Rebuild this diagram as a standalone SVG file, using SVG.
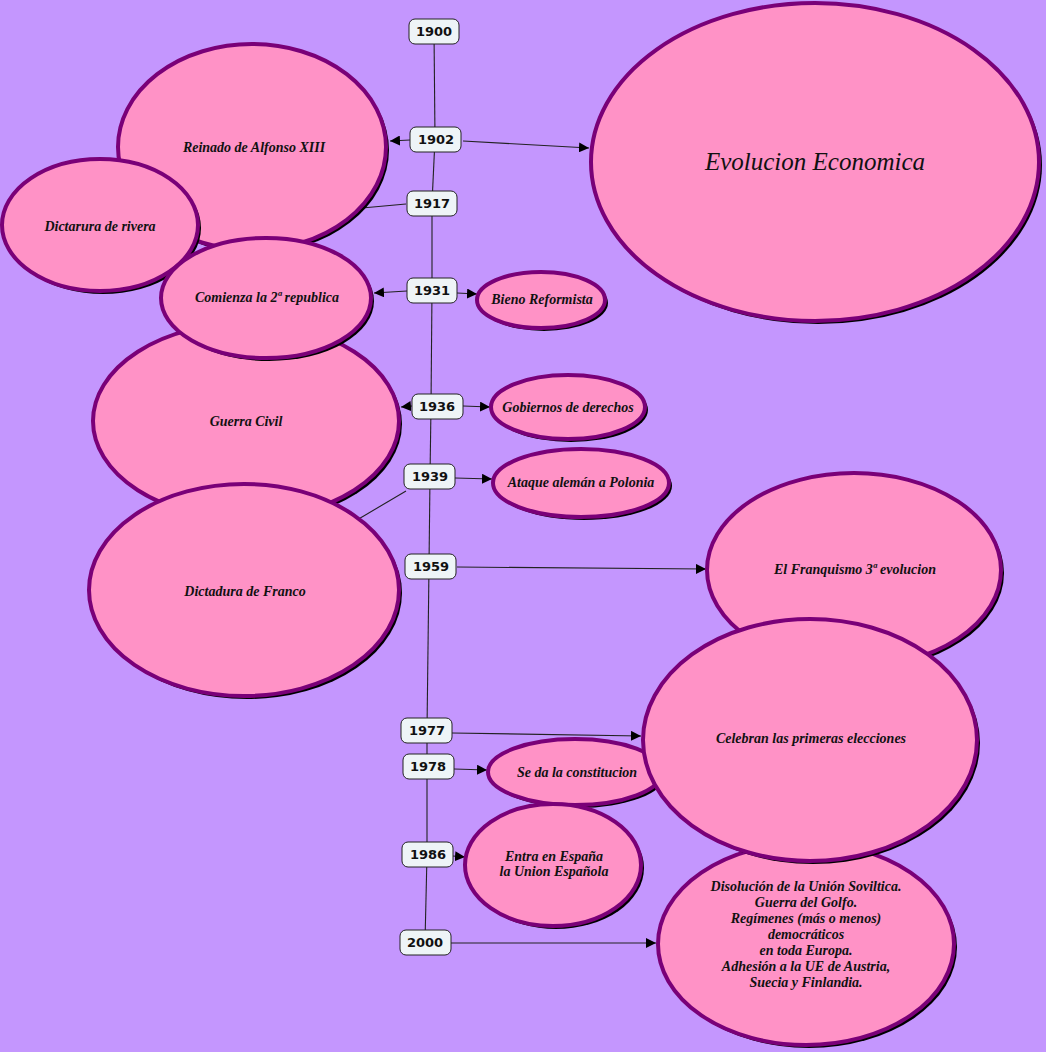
<svg xmlns="http://www.w3.org/2000/svg" width="1046" height="1052" viewBox="0 0 1046 1052">
<style>
.bg{fill:#c496fe}
.sh{fill:#000}
.el{fill:#ff92c6;stroke:#7a0078;stroke-width:4}
.yr rect{fill:#eef4f7;stroke:#222;stroke-width:1}
.yr text{font-family:"DejaVu Sans",Verdana,sans-serif;font-weight:bold;font-size:13px;fill:#111;text-anchor:middle}
.lb{font-family:"Liberation Serif","DejaVu Serif",serif;font-style:italic;font-weight:bold;font-size:14px;fill:#111;text-anchor:middle}
.big{font-family:"Liberation Serif","DejaVu Serif",serif;font-style:italic;font-size:25px;fill:#111;text-anchor:middle}
.cn line{stroke:#222;stroke-width:1.1}
</style>
<defs>
<marker id="ah" viewBox="0 0 10 10" refX="10" refY="5" markerWidth="10" markerHeight="10" markerUnits="userSpaceOnUse" orient="auto">
<path d="M0,0 L10,5 L0,10 z" fill="#000"/>
</marker>
</defs>
<rect class="bg" x="0" y="0" width="1046" height="1052"/>

<g id="connectors" class="cn">
<line x1="434" y1="31" x2="435" y2="139"/>
<line x1="435" y1="139" x2="432" y2="203"/>
<line x1="432" y1="203" x2="432" y2="290"/>
<line x1="432" y1="290" x2="431" y2="406"/>
<line x1="431" y1="406" x2="430" y2="477"/>
<line x1="430" y1="477" x2="429" y2="566"/>
<line x1="429" y1="566" x2="427" y2="730"/>
<line x1="427" y1="730" x2="427" y2="767"/>
<line x1="427" y1="767" x2="427" y2="855"/>
<line x1="427" y1="855" x2="425" y2="942"/>
<line x1="410" y1="140" x2="390" y2="141" marker-end="url(#ah)"/>
<line x1="463" y1="141" x2="589" y2="148" marker-end="url(#ah)"/>
<line x1="406" y1="204" x2="340" y2="210"/>
<line x1="407" y1="291" x2="374" y2="293" marker-end="url(#ah)"/>
<line x1="457" y1="293" x2="477" y2="294" marker-end="url(#ah)"/>
<line x1="412" y1="406" x2="401" y2="407" marker-end="url(#ah)"/>
<line x1="463" y1="406" x2="490" y2="407" marker-end="url(#ah)"/>
<line x1="455" y1="478" x2="492" y2="479" marker-end="url(#ah)"/>
<line x1="406" y1="491" x2="340" y2="530"/>
<line x1="457" y1="567" x2="706" y2="569" marker-end="url(#ah)"/>
<line x1="452" y1="733" x2="641" y2="736" marker-end="url(#ah)"/>
<line x1="454" y1="769" x2="487" y2="770" marker-end="url(#ah)"/>
<line x1="453" y1="856" x2="465" y2="857" marker-end="url(#ah)"/>
<line x1="451" y1="943" x2="656" y2="943" marker-end="url(#ah)"/>
</g>

<g id="n-evolucion">
<ellipse class="sh" cx="818" cy="165" rx="224" ry="159"/>
<ellipse class="el" cx="815" cy="162" rx="224" ry="159"/>
<text class="big" x="815" y="170">Evolucion Economica</text>
</g>
<g id="n-reinado">
<ellipse class="sh" cx="255" cy="150" rx="134" ry="103"/>
<ellipse class="el" cx="252" cy="147" rx="134" ry="103"/>
<text class="lb" x="254" y="152">Reinado de Alfonso XIII</text>
</g>
<g id="n-dictarura">
<ellipse class="sh" cx="103" cy="228" rx="98" ry="66"/>
<ellipse class="el" cx="100" cy="225" rx="98" ry="66"/>
<text class="lb" x="100" y="231">Dictarura de rivera</text>
</g>
<g id="n-guerra">
<ellipse class="sh" cx="249" cy="424" rx="153" ry="98"/>
<ellipse class="el" cx="246" cy="421" rx="153" ry="98"/>
<text class="lb" x="246" y="426">Guerra Civil</text>
</g>
<g id="n-comienza">
<ellipse class="sh" cx="269" cy="301" rx="105" ry="60"/>
<ellipse class="el" cx="266" cy="298" rx="105" ry="60"/>
<text class="lb" x="267" y="302">Comienza la 2ª republica</text>
</g>
<g id="n-franco">
<ellipse class="sh" cx="247" cy="593" rx="155" ry="106"/>
<ellipse class="el" cx="244" cy="590" rx="155" ry="106"/>
<text class="lb" x="245" y="596">Dictadura de Franco</text>
</g>
<g id="n-bieno">
<ellipse class="sh" cx="544" cy="303" rx="64" ry="28"/>
<ellipse class="el" cx="541" cy="300" rx="64" ry="28"/>
<text class="lb" x="542" y="304">Bieno Reformista</text>
</g>
<g id="n-gobiernos">
<ellipse class="sh" cx="571" cy="410" rx="77" ry="32"/>
<ellipse class="el" cx="568" cy="407" rx="77" ry="32"/>
<text class="lb" x="568" y="412">Gobiernos de derechos</text>
</g>
<g id="n-ataque">
<ellipse class="sh" cx="584" cy="486" rx="88" ry="34"/>
<ellipse class="el" cx="581" cy="483" rx="88" ry="34"/>
<text class="lb" x="581" y="487">Ataque alemán a Polonia</text>
</g>
<g id="n-franquismo">
<ellipse class="sh" cx="857" cy="573" rx="147" ry="97"/>
<ellipse class="el" cx="854" cy="570" rx="147" ry="97"/>
<text class="lb" x="855" y="574">El Franquismo 3ª evolucion</text>
</g>
<g id="n-constitucion">
<ellipse class="sh" cx="578" cy="775" rx="87" ry="33"/>
<ellipse class="el" cx="575" cy="772" rx="87" ry="33"/>
<text class="lb" x="577" y="777">Se da la constitucion</text>
</g>
<g id="n-entra">
<ellipse class="sh" cx="556" cy="868" rx="88" ry="61"/>
<ellipse class="el" cx="553" cy="865" rx="88" ry="61"/>
<text class="lb" x="554" y="861">Entra en España</text>
<text class="lb" x="554" y="876">la Union Española</text>
</g>
<g id="n-disolucion">
<ellipse class="sh" cx="809" cy="947" rx="148" ry="101"/>
<ellipse class="el" cx="806" cy="944" rx="148" ry="101"/>
<text class="lb" x="806" y="891">Disolución de la Unión Soviltica.</text>
<text class="lb" x="806" y="907">Guerra del Golfo.</text>
<text class="lb" x="806" y="923">Regímenes (más o menos)</text>
<text class="lb" x="806" y="939">democráticos</text>
<text class="lb" x="806" y="955">en toda Europa.</text>
<text class="lb" x="806" y="971">Adhesión a la UE de Austria,</text>
<text class="lb" x="806" y="987">Suecia y Finlandia.</text>
</g>
<g id="n-celebran">
<ellipse class="sh" cx="813" cy="743" rx="167" ry="121"/>
<ellipse class="el" cx="810" cy="740" rx="167" ry="121"/>
<text class="lb" x="811" y="743">Celebran las primeras elecciones</text>
</g>

<g id="y1900" class="yr"><rect x="409" y="19" width="50" height="25" rx="6"/><text x="434" y="36">1900</text></g>
<g id="y1902" class="yr"><rect x="410" y="127" width="51" height="25" rx="6"/><text x="436" y="144">1902</text></g>
<g id="y1917" class="yr"><rect x="407" y="191" width="50" height="25" rx="6"/><text x="432" y="208">1917</text></g>
<g id="y1931" class="yr"><rect x="407" y="278" width="50" height="25" rx="6"/><text x="432" y="295">1931</text></g>
<g id="y1936" class="yr"><rect x="412" y="394" width="51" height="25" rx="6"/><text x="437" y="411">1936</text></g>
<g id="y1939" class="yr"><rect x="404" y="464" width="51" height="25" rx="6"/><text x="430" y="481">1939</text></g>
<g id="y1959" class="yr"><rect x="405" y="554" width="51" height="25" rx="6"/><text x="431" y="571">1959</text></g>
<g id="y1977" class="yr"><rect x="401" y="718" width="51" height="25" rx="6"/><text x="427" y="735">1977</text></g>
<g id="y1978" class="yr"><rect x="403" y="754" width="51" height="25" rx="6"/><text x="428" y="771">1978</text></g>
<g id="y1986" class="yr"><rect x="402" y="842" width="51" height="25" rx="6"/><text x="428" y="859">1986</text></g>
<g id="y2000" class="yr"><rect x="400" y="930" width="51" height="25" rx="6"/><text x="425" y="947">2000</text></g>
</svg>
